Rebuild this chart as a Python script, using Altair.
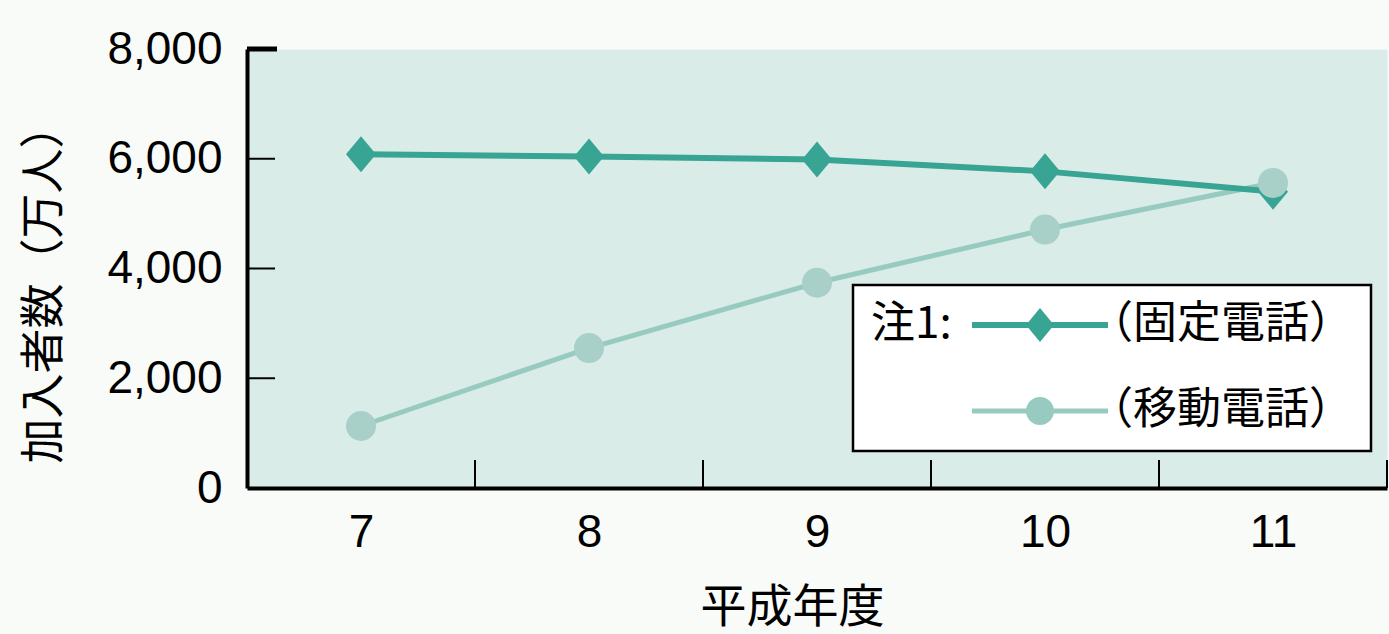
import altair as alt
import pandas as pd

# ---- data ----
years = [7, 8, 9, 10, 11]
fixed = [6080, 6040, 5985, 5770, 5400]      # 固定電話 (万人)
mobile = [1130, 2550, 3740, 4710, 5560]     # 移動電話 (万人)
series_names = ["（固定電話）", "（移動電話）"]
y_ticks = [0, 2000, 4000, 6000, 8000]
x_ticks = [7, 8, 9, 10, 11]
x_bounds = [7.5, 8.5, 9.5, 10.5, 11.5]
inner_y_ticks = [2000, 4000, 6000]
top_tick = [8000]

fixed_color = "#38a493"
mobile_line_color = "#98cbc0"
mobile_point_color = "#a8d0c9"

W, H = 1140, 439

df = pd.DataFrame({
    "year": years * 2,
    "value": fixed + mobile,
    "series": [series_names[0]] * len(years) + [series_names[1]] * len(years),
})
fixed_df = df[df.series == series_names[0]]
mobile_df = df[df.series == series_names[1]]

xscale = alt.Scale(domain=[6.5, 11.5], nice=False, zero=False)
yscale = alt.Scale(domain=[0, 8000], nice=False)

x_enc = alt.X(
    "year:Q", scale=xscale,
    axis=alt.Axis(
        values=x_ticks, format="d", ticks=False, tickSize=0, grid=False,
        domainColor="black", domainWidth=4, labelFontSize=46,
        labelFont="Liberation Sans", labelColor="black", labelPadding=22,
        title="平成年度", titleFont="Noto Sans CJK JP", titleFontSize=46,
        titleFontWeight="normal", titleColor="black",
        titleX=545, titleY=119, titleBaseline="middle", titleAnchor="start",
        titleAlign="center",
    ),
)
y_enc = alt.Y(
    "value:Q", scale=yscale,
    axis=alt.Axis(
        values=y_ticks, format=",.0f", ticks=False, tickSize=0, grid=False,
        domainColor="black", domainWidth=4, labelFontSize=46,
        labelFont="Liberation Sans", labelColor="black", labelPadding=25,
        title="加入者数（万人）", titleFont="Noto Sans CJK JP", titleFontSize=45,
        titleFontWeight="normal", titleColor="black", titleAngle=270,
        titleX=-203, titleY=234, titleBaseline="middle", titleAlign="center",
    ),
)

diamond_path = "M-1,0L0,-1.2L1,0L0,1.2Z"

mobile_line = alt.Chart(mobile_df).mark_line(
    color=mobile_line_color, strokeWidth=5
).encode(x=x_enc, y=y_enc)

fixed_line = alt.Chart(fixed_df).mark_line(
    color=fixed_color, strokeWidth=6
).encode(x="year:Q", y="value:Q")

fixed_pts = alt.Chart(fixed_df).mark_point(
    filled=True, opacity=1, color=fixed_color, shape=diamond_path, size=900
).encode(x="year:Q", y="value:Q")

mobile_pts = alt.Chart(mobile_df).mark_point(
    filled=True, opacity=1, color=mobile_point_color, shape="circle", size=900
).encode(x="year:Q", y="value:Q")

# inward ticks
yt_df = pd.DataFrame({"v": inner_y_ticks})
ytick_rules = alt.Chart(yt_df).mark_rule(color="black", strokeWidth=2).encode(
    y="v:Q", x=alt.value(0), x2=alt.value(28)
)
top_df = pd.DataFrame({"v": top_tick})
top_rule = alt.Chart(top_df).mark_rule(color="black", strokeWidth=5).encode(
    y="v:Q", x=alt.value(0), x2=alt.value(30)
)
xt_df = pd.DataFrame({"v": x_bounds})
xtick_rules = alt.Chart(xt_df).mark_rule(color="black", strokeWidth=2).encode(
    x="v:Q", y=alt.value(H - 28), y2=alt.value(H)
)

# legend (symbols = line with marker)
S = 44.0
r = S / 2
L = 68 / r
fixed_sym = (
    f"M{-L:.3f},{-3/r:.3f}L{L:.3f},{-3/r:.3f}L{L:.3f},{3/r:.3f}L{-L:.3f},{3/r:.3f}Z"
    f"M{-14/r:.3f},0L0,{-17/r:.3f}L{14/r:.3f},0L0,{17/r:.3f}Z"
)
cr = 14 / r
mobile_sym = (
    f"M{-L:.3f},{-2.5/r:.3f}L{L:.3f},{-2.5/r:.3f}L{L:.3f},{2.5/r:.3f}L{-L:.3f},{2.5/r:.3f}Z"
    f"M{-cr:.3f},0A{cr:.3f},{cr:.3f} 0 1,1 {cr:.3f},0A{cr:.3f},{cr:.3f} 0 1,1 {-cr:.3f},0Z"
)

legend_props = dict(
    title="注1:", orient="none", legendX=606, legendY=236,
    direction="vertical", titleOrient="left", titleAnchor="start",
    titleBaseline="top", titlePadding=20, padding=18, rowPadding=42,
    fillColor="white", strokeColor="black",
    symbolSize=S * S, symbolStrokeWidth=0, symbolOffset=46,
    labelOffset=27, labelFontSize=44, labelFont="Noto Sans CJK JP",
    labelColor="black", labelLimit=600, titleFontSize=44,
    titleFont="Noto Sans CJK JP", titleFontWeight="normal",
    titleColor="black", titleLimit=300, symbolOpacity=1,
)

legend_layer = alt.Chart(df).mark_point(filled=True, opacity=1).encode(
    x="year:Q", y="value:Q",
    color=alt.Color(
        "series:N",
        scale=alt.Scale(domain=series_names, range=[fixed_color, mobile_line_color]),
        legend=alt.Legend(**legend_props),
    ),
    shape=alt.Shape(
        "series:N",
        scale=alt.Scale(domain=series_names, range=[fixed_sym, mobile_sym]),
        legend=alt.Legend(**legend_props),
    ),
    size=alt.value(0),
)

chart = alt.layer(
    mobile_line, fixed_line, fixed_pts, mobile_pts,
    ytick_rules, top_rule, xtick_rules, legend_layer,
).properties(
    width=W, height=H,
    autosize=alt.AutoSizeParams(type="none"),
    padding={"left": 247, "top": 49, "right": 2, "bottom": 146},
    background="#f8fbf7",
).configure_view(
    fill="#daece7", stroke="transparent"
).configure_legend(
    strokeWidth=2.5
)

chart.save("out.html", embed_options={"renderer": "svg", "actions": False})
